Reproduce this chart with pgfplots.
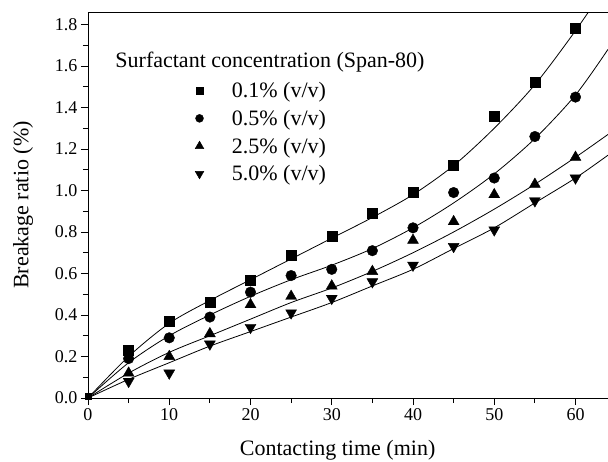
\documentclass[border=0pt]{standalone}
\usepackage{pgfplots}
\pgfplotsset{compat=1.18}
\usepackage{fontspec}
\setmainfont{Liberation Serif}

% measured points
\pgfplotstableread{
t    a     b     c     d
5    0.23  0.19  0.12  0.08
10   0.37  0.29  0.20  0.12
15   0.46  0.39  0.31  0.26
20   0.57  0.51  0.45  0.34
25   0.69  0.59  0.49  0.41
30   0.78  0.62  0.54  0.48
35   0.89  0.71  0.61  0.56
40   0.99  0.82  0.76  0.64
45   1.12  0.99  0.85  0.73
50   1.36  1.06  0.98  0.81
55   1.52  1.26  1.03  0.95
60   1.78  1.45  1.16  1.06
}\meas

% fitted curves
\pgfplotstableread{
t    a     b     c     d
0    0.00  0.00  0.00  0.00
5    0.20  0.17  0.12  0.09
10   0.36  0.30  0.22  0.17
15   0.47  0.40  0.30  0.25
20   0.57  0.49  0.38  0.32
25   0.67  0.57  0.46  0.39
30   0.77  0.64  0.53  0.46
35   0.87  0.72  0.61  0.54
40   0.98  0.82  0.70  0.62
45   1.12  0.94  0.80  0.72
50   1.30  1.08  0.91  0.82
55   1.51  1.25  1.03  0.94
60   1.77  1.46  1.16  1.06
64   2.00  1.68  1.27  1.17
}\fit

\newcommand\tickf{\fontsize{18}{21}\selectfont}
\newcommand\bigf{\fontsize{22}{26}\selectfont}

\begin{document}
\begin{tikzpicture}
\useasboundingbox (-88pt,-63pt) rectangle (520pt,398pt);
\begin{axis}[
  scale only axis, width=520pt, height=386pt,
  xmin=0, xmax=64, ymin=0, ymax=1.86,
  axis x line*=bottom, axis y line*=left,
  axis line style={line width=0.9pt, -},
  xtick={0,10,...,60}, minor xtick={5,15,...,55},
  ytick={0,0.2,...,1.8}, minor ytick={0.1,0.3,...,1.7},
  tick align=outside, major tick length=7pt, minor tick length=5pt,
  tick style={black, line width=0.8pt},
  yticklabel style={/pgf/number format/.cd, fixed, fixed zerofill, precision=1},
  /pgf/number format/assume math mode=true,
  tick label style={font=\tickf},
  label style={font=\bigf},
  xlabel={Contacting time (min)},
  ylabel={Breakage ratio (\%)},
  xlabel style={at={(axis description cs:0.48,-0.135)}, anchor=center},
  ylabel style={at={(axis description cs:-0.125,0.5)}, anchor=center},
  legend style={draw=none, fill=none, at={(rel axis cs:0.20,0.829)}, anchor=north west,
    font=\bigf, row sep=7pt,
    /tikz/every odd column/.append style={column sep=26pt}},
  legend cell align=left,
]
\addlegendimage{only marks, mark=square*, mark size=3.5pt, black}
\addlegendentry{0.1\% (v/v)}
\addlegendimage{only marks, mark=*, mark size=4pt, black}
\addlegendentry{0.5\% (v/v)}
\addlegendimage{only marks, mark=triangle*, mark size=5pt, black}
\addlegendentry{2.5\% (v/v)}
\addlegendimage{only marks, mark=triangle*, mark size=5pt, mark options={rotate=180}, black}
\addlegendentry{5.0\% (v/v)}

\addplot[only marks, mark=square*, mark size=5pt, black, forget plot] table[x=t,y=a] \meas;
\addplot[only marks, mark=*, mark size=5.3pt, black, forget plot] table[x=t,y=b] \meas;
\addplot[only marks, mark=triangle*, mark size=6.3pt, black, forget plot] table[x=t,y=c] \meas;
\addplot[only marks, mark=triangle*, mark size=6.3pt, mark options={rotate=180}, black, forget plot] table[x=t,y=d] \meas;

\addplot[black, line width=0.8pt, smooth, forget plot] table[x=t,y=a] \fit;
\addplot[black, line width=0.8pt, smooth, forget plot] table[x=t,y=b] \fit;
\addplot[black, line width=0.8pt, smooth, forget plot] table[x=t,y=c] \fit;
\addplot[black, line width=0.8pt, smooth, forget plot] table[x=t,y=d] \fit;

\addplot[only marks, mark=square*, mark size=3pt, black, forget plot] coordinates {(0,0.01)};

\draw[line width=0.9pt] (rel axis cs:0,1) -- (rel axis cs:1,1);
\node[anchor=west, font=\bigf] at (rel axis cs:0.046,0.870) {Surfactant concentration (Span-80)};
\end{axis}
\end{tikzpicture}
\end{document}
